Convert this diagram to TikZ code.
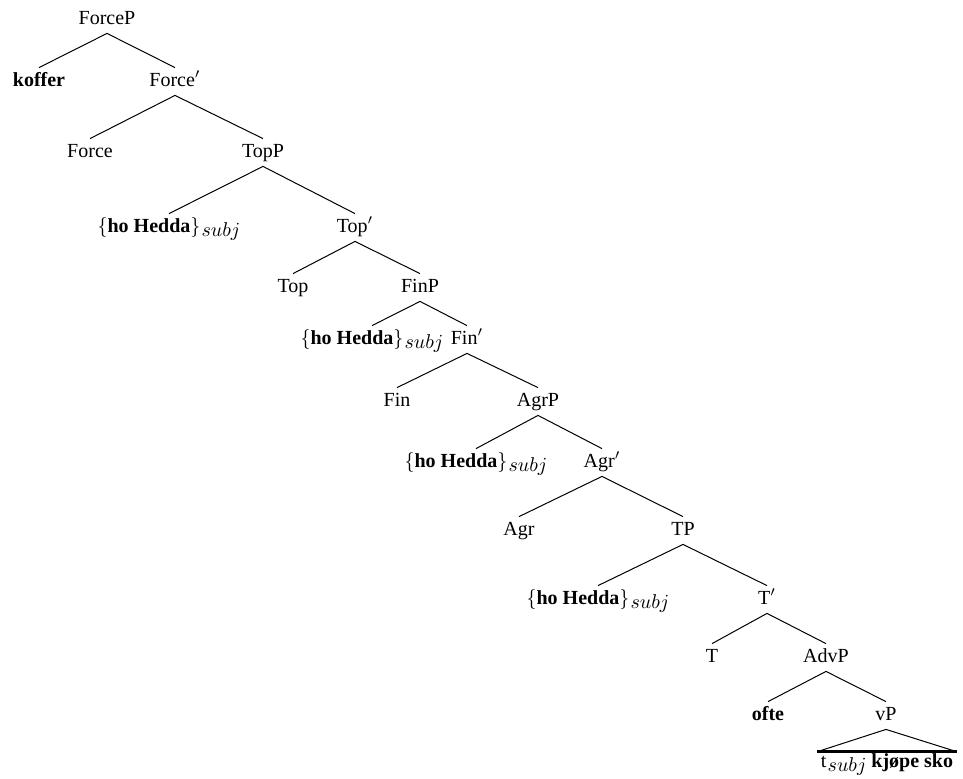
\documentclass[tikz,border=0pt]{standalone}
\usepackage{fontspec}
\setmainfont{Liberation Serif}
% full-size italic subscript, lowered a little
\newcommand\subj{\kern0.6pt\raisebox{-2pt}{$subj$}}
\newcommand\hoHedda{$\{$\textbf{ho Hedda}$\}$\subj}
\begin{document}
\begin{tikzpicture}[x=0.5pt,y=-0.5pt,
  cat/.style={anchor=base,inner xsep=1pt,inner ysep=2pt,text height=7pt,text depth=2.5pt},
  branch/.style={line width=0.5pt},
  roofbase/.style={line width=1.2pt}]
\useasboundingbox (0,0) rectangle (963,778);

% categories, level by level
\node[cat] (forceP) at (107,24) {ForceP};
\node[cat] (koffer) at (39,86) {\textbf{koffer}};
\node[cat] (forceB) at (175,86) {Force$'$};
\node[cat] (force) at (90,157) {Force};
\node[cat] (topP) at (263,157) {TopP};
\node[cat] (hhA) at (169,232) {\hoHedda};
\node[cat] (topB) at (355,232) {Top$'$};
\node[cat] (top) at (293,292) {Top};
\node[cat] (finP) at (420,292) {FinP};
\node[cat] (hhB) at (372,344) {\hoHedda};
\node[cat] (finB) at (467,344) {Fin$'$};
\node[cat] (fin) at (397,406) {Fin};
\node[cat] (agrP) at (538,406) {AgrP};
\node[cat] (hhC) at (476,467) {\hoHedda};
\node[cat] (agrB) at (602,467) {Agr$'$};
\node[cat] (agr) at (519,535) {Agr};
\node[cat] (tP) at (683,535) {TP};
\node[cat] (hhD) at (598,604) {\hoHedda};
\node[cat] (tB) at (767,604) {T$'$};
\node[cat] (t) at (712,662) {T};
\node[cat] (advP) at (826,662) {AdvP};
\node[cat] (ofte) at (768,720) {\textbf{ofte}};
\node[cat] (vP) at (886,720) {vP};
\node[anchor=base,inner xsep=1.5pt,inner ysep=0pt,text height=7.5pt] (vPleaf) at (887,767) {$\mathrm{t}$\subj{} \textbf{kjøpe sko}};

% branches
\draw[branch] (forceP.south) -- (koffer.north);
\draw[branch] (forceP.south) -- (forceB.north);
\draw[branch] (forceB.south) -- (force.north);
\draw[branch] (forceB.south) -- (topP.north);
\draw[branch] (topP.south) -- (hhA.north);
\draw[branch] (topP.south) -- (topB.north);
\draw[branch] (topB.south) -- (top.north);
\draw[branch] (topB.south) -- (finP.north);
\draw[branch] (finP.south) -- (hhB.north);
\draw[branch] (finP.south) -- (finB.north);
\draw[branch] (finB.south) -- (fin.north);
\draw[branch] (finB.south) -- (agrP.north);
\draw[branch] (agrP.south) -- (hhC.north);
\draw[branch] (agrP.south) -- (agrB.north);
\draw[branch] (agrB.south) -- (agr.north);
\draw[branch] (agrB.south) -- (tP.north);
\draw[branch] (tP.south) -- (hhD.north);
\draw[branch] (tP.south) -- (tB.north);
\draw[branch] (tB.south) -- (t.north);
\draw[branch] (tB.south) -- (advP.north);
\draw[branch] (advP.south) -- (ofte.north);
\draw[branch] (advP.south) -- (vP.north);

% roof over the vP
\draw[branch] (vPleaf.north west) -- (vP.south) -- (vPleaf.north east);
\draw[roofbase] (vPleaf.north west) -- (vPleaf.north east);
\end{tikzpicture}
\end{document}
